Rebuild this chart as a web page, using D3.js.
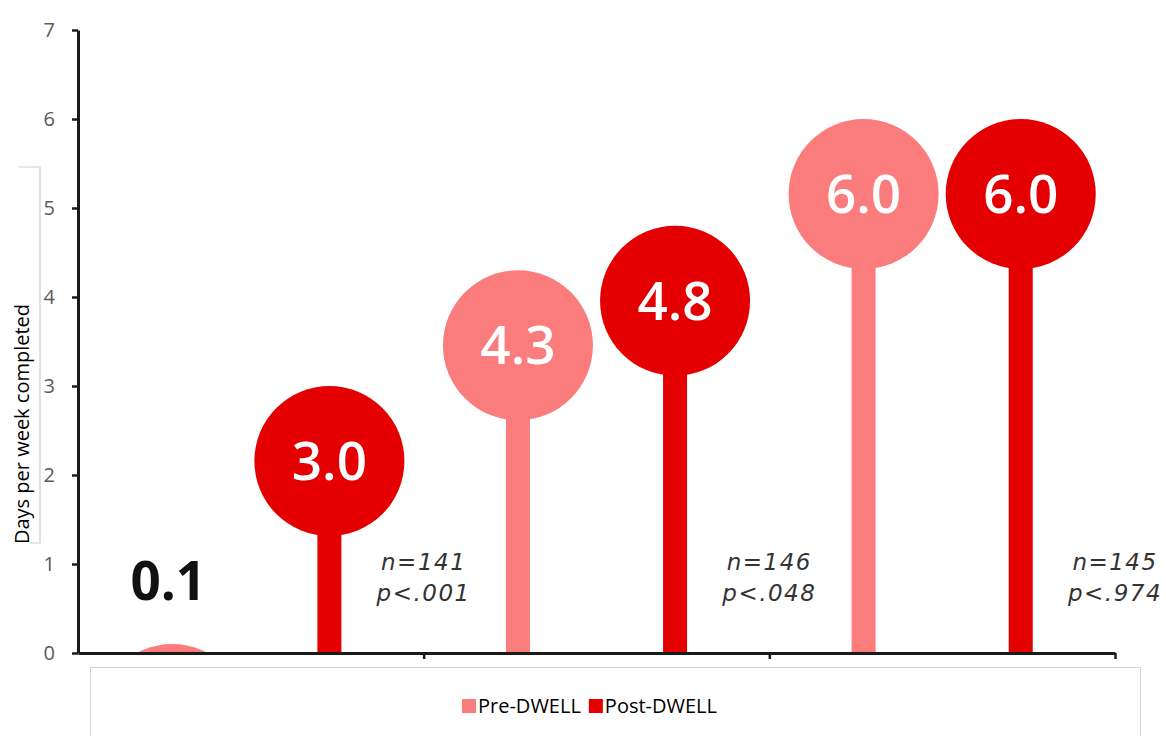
<!DOCTYPE html>
<html>
<head>
<meta charset="utf-8">
<script src="https://cdn.jsdelivr.net/npm/d3@7"></script>
<style>
  html, body { margin: 0; padding: 0; background: #fff; }
  svg { display: block; }
</style>
</head>
<body>
<svg id="chart" width="1166" height="736"></svg>
<script>
// Days per week completed, before and after DWELL, three cohorts
const categories = ["1", "2", "3"];
const seriesNames = ["Pre-DWELL", "Post-DWELL"];
const preValues = [0.1, 4.3, 6.0];
const postValues = [3.0, 4.8, 6.0];
const nLabels = ["n=141", "n=146", "n=145"];
const pLabels = ["p<.001", "p<.048", "p<.974"];
const yTickValues = [0, 1, 2, 3, 4, 5, 6, 7];

const colors = { "Pre-DWELL": "#fb7c7c", "Post-DWELL": "#e40000" };
const R = 75;          // lollipop head radius
const STICK = 24;      // lollipop stick width

const svg = d3.select("#chart");
const W = 1166, H = 736;
const plot = { left: 78, right: 1115, top: 30, bottom: 653 };

svg.append("rect").attr("width", W).attr("height", H).attr("fill", "#fff");

const y = d3.scaleLinear().domain([0, 7]).range([plot.bottom, plot.top]);
const x = d3.scaleBand().domain(categories).range([plot.left, plot.right]).padding(0);
const xs = d3.scalePoint().domain(seriesNames).range([0, x.bandwidth()]).padding(0.6);
const xBound = d3.scaleLinear().domain([0, categories.length]).range([plot.left, plot.right]);

const rows = [];
categories.forEach((c, i) => {
  rows.push({ cat: c, s: "Pre-DWELL", v: preValues[i] });
  rows.push({ cat: c, s: "Post-DWELL", v: postValues[i] });
});

// clip marks to the plot area so heads below zero are cut at the axis
svg.append("defs").append("clipPath").attr("id", "plotClip")
  .append("rect").attr("x", plot.left).attr("y", 0)
  .attr("width", plot.right - plot.left).attr("height", plot.bottom);

const marks = svg.append("g").attr("clip-path", "url(#plotClip)");
const cx = d => x(d.cat) + xs(d.s);
const cy = d => y(d.v) + R;   // head sits with its top edge on the value

marks.selectAll("rect.stick").data(rows).join("rect")
  .attr("class", "stick")
  .attr("x", d => cx(d) - STICK / 2)
  .attr("width", STICK)
  .attr("y", d => Math.min(cy(d), y(0)))
  .attr("height", d => Math.max(0, y(0) - cy(d)))
  .attr("fill", d => colors[d.s]);

marks.selectAll("circle.head").data(rows).join("circle")
  .attr("class", "head")
  .attr("cx", cx).attr("cy", cy).attr("r", R)
  .attr("fill", d => colors[d.s]);

// value labels: inside the head, or above it when the head sits below the axis
const below = d => cy(d) > y(0);
svg.selectAll("text.val").data(rows).join("text")
  .attr("class", "val")
  .attr("x", d => cx(d) - (below(d) ? 4 : 0))
  .attr("y", d => below(d) ? y(d.v) - 44 : cy(d))
  .attr("dy", d => below(d) ? 0 : "0.36em")
  .attr("text-anchor", "middle")
  .attr("font-family", "'Open Sans', sans-serif")
  .attr("font-weight", d => below(d) ? 700 : 600)
  .attr("font-size", 53)
  .attr("fill", d => below(d) ? "#111" : "#fff")
  .text(d => d3.format(".1f")(d.v));

// sample size and significance notes at the end of each group
const notes = svg.append("g")
  .attr("font-family", "'DejaVu Sans', Verdana, sans-serif")
  .attr("font-style", "italic")
  .attr("font-size", 23)
  .attr("letter-spacing", 1.5)
  .attr("fill", "#333")
  .attr("text-anchor", "middle");
categories.forEach((c, i) => {
  const nx = x(c) + x.bandwidth();
  notes.append("text").attr("x", nx).attr("y", 570).text(nLabels[i]);
  notes.append("text").attr("x", nx).attr("y", 601).text(pLabels[i]);
});

// axes
const yAxis = svg.append("g").attr("transform", `translate(${plot.left},0)`)
  .call(d3.axisLeft(y).tickValues(yTickValues).tickFormat(d3.format("d"))
    .tickSize(6).tickSizeOuter(0).tickPadding(17));
yAxis.select(".domain").attr("stroke", "#1a1a1a").attr("stroke-width", 3);
yAxis.selectAll(".tick line").attr("stroke", "#1a1a1a").attr("stroke-width", 2.5);
yAxis.selectAll(".tick text")
  .attr("font-family", "'Open Sans', sans-serif").attr("font-size", 20).attr("fill", "#5a5a5a");

const xAxis = svg.append("g").attr("transform", `translate(0,${plot.bottom})`)
  .call(d3.axisBottom(xBound).tickValues([1, 2, 3]).tickFormat("").tickSize(6).tickSizeOuter(0));
xAxis.select(".domain").attr("stroke", "#1a1a1a").attr("stroke-width", 3);
xAxis.selectAll(".tick line").attr("stroke", "#1a1a1a").attr("stroke-width", 2.5);

// y-axis title with its frame
svg.append("path")
  .attr("d", "M18,167H40V543H30")
  .attr("fill", "none").attr("stroke", "#cfcfcf").attr("stroke-width", 1.2);
svg.append("text")
  .attr("transform", "translate(29,424) rotate(-90)")
  .attr("text-anchor", "middle")
  .attr("font-family", "'Open Sans', sans-serif")
  .attr("font-size", 20)
  .attr("fill", "#000")
  .text("Days per week completed");

// legend
svg.append("rect")
  .attr("x", 90.5).attr("y", 667.5).attr("width", 1050).attr("height", 90)
  .attr("fill", "#fff").attr("stroke", "#d6d6d6").attr("stroke-width", 1);
const legend = svg.append("g").attr("transform", "translate(462,0)");
let lx = 0;
seriesNames.forEach(s => {
  legend.append("rect").attr("x", lx).attr("y", 699).attr("width", 14).attr("height", 14)
    .attr("fill", colors[s]);
  const t = legend.append("text").attr("x", lx + 16).attr("y", 713)
    .attr("font-family", "'Open Sans', sans-serif").attr("font-size", 20).attr("fill", "#000")
    .text(s);
  lx += 16 + t.node().getComputedTextLength() + 8;
});
</script>
</body>
</html>
